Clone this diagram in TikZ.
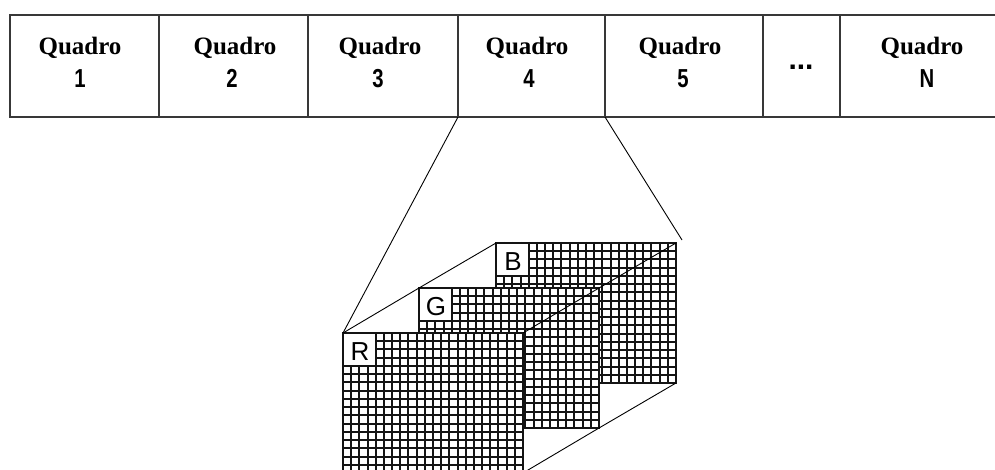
\documentclass[tikz,border=0pt]{standalone}
\usepackage{fontspec}
\setmainfont{Liberation Serif}
\newfontfamily\arialfont{Liberation Sans}
\newcommand\rgbplane[4]{% #1 x, #2 y, #3 letter, #4 name
  \begin{scope}[shift={(#1,#2)}]
    \fill[white] (0,0) rectangle (182,142);
    \foreach \gi in {1,...,21} \draw[gridl] ({round(1+\gi*180/22)},0) -- ({round(1+\gi*180/22)},142);
    \foreach \gi in {1,...,16} \draw[gridl] (0,{round(1+\gi*140/17)}) -- (182,{round(1+\gi*140/17)});
    \filldraw[fill=white, gridl] (1,1) rectangle (34,34);
    \draw[gridl] (1,1) rectangle (181,141);
    \node[lettertext, anchor=base] (#4) at (18,28.5) {#3};
  \end{scope}}
\begin{document}
\begin{tikzpicture}[x=1pt,y=-1pt,
  cell/.style={draw=black!78, line width=1.7pt, rectangle, inner sep=0pt, outer sep=0pt,
    minimum height=102pt, anchor=north west},
  gridl/.style={line width=1.8pt, draw=black!92},
  conn/.style={line width=0.9pt, draw=black},
  qtext/.style={font=\fontsize{25}{25}\selectfont\bfseries, inner sep=0pt, anchor=base},
  ntext/.style={font=\arialfont\fontsize{26}{26}\selectfont\bfseries, inner sep=0pt, anchor=base},
  lettertext/.style={font=\arialfont\fontsize{26}{26}\selectfont, inner sep=0pt}]
\useasboundingbox (0,0) rectangle (995,470);
\clip (0,0) rectangle (995,470);
\fill[white] (0,0) rectangle (995,470);
% strip of frames
\node[cell, minimum width=149pt] (c1) at (10,15) {};
\node[cell, minimum width=149pt] (c2) at (159,15) {};
\node[cell, minimum width=150pt] (c3) at (308,15) {};
\node[cell, minimum width=147pt] (c4) at (458,15) {};
\node[cell, minimum width=158pt] (c5) at (605,15) {};
\node[cell, minimum width=77pt] (c6) at (763,15) {};
\node[cell, minimum width=170pt] (c7) at (840,15) {};
% texts
\node[qtext] (t1) at (80,55) {Quadro};
\node[ntext] (n1) at (80,88) {\scalebox{0.78}[1]{1}};
\node[qtext] (t2) at (235,55) {Quadro};
\node[ntext] (n2) at (232,88) {\scalebox{0.78}[1]{2}};
\node[qtext] (t3) at (380,55) {Quadro};
\node[ntext] (n3) at (378,88) {\scalebox{0.78}[1]{3}};
\node[qtext] (t4) at (527,55) {Quadro};
\node[ntext] (n4) at (529,88) {\scalebox{0.78}[1]{4}};
\node[qtext] (t5) at (680,55) {Quadro};
\node[ntext] (n5) at (683,88) {\scalebox{0.78}[1]{5}};
\node[ntext, font=\arialfont\fontsize{30}{30}\selectfont\bfseries] (dots) at (801,70) {...};
\node[qtext] (t7) at (922,55) {Quadro};
\node[ntext] (n7) at (927,88) {\scalebox{0.78}[1]{N}};
% planes, back to front
\rgbplane{495}{242}{B}{lb}
\rgbplane{418}{287}{G}{lg}
\rgbplane{342}{332}{R}{lr}
% corners
\coordinate (BTL) at (496,243); \coordinate (BTR) at (676,243); \coordinate (BBR) at (676,383);
\coordinate (GTL) at (419,288); \coordinate (GTR) at (599,288); \coordinate (GBR) at (599,428);
\coordinate (RTL) at (343,333); \coordinate (RTR) at (523,333); \coordinate (RBR) at (523,473);
\coordinate (FR) at (682,240);
% connectors
\draw[conn] (c4.south west) -- (RTL);
\draw[conn] (c4.south east) -- (FR);
\draw[conn] (RTL) -- (GTL) -- (BTL);
\draw[conn] (BTR) -- (GTR) -- (RTR);
\draw[conn] (BBR) -- (GBR) -- (RBR);
\end{tikzpicture}
\end{document}
